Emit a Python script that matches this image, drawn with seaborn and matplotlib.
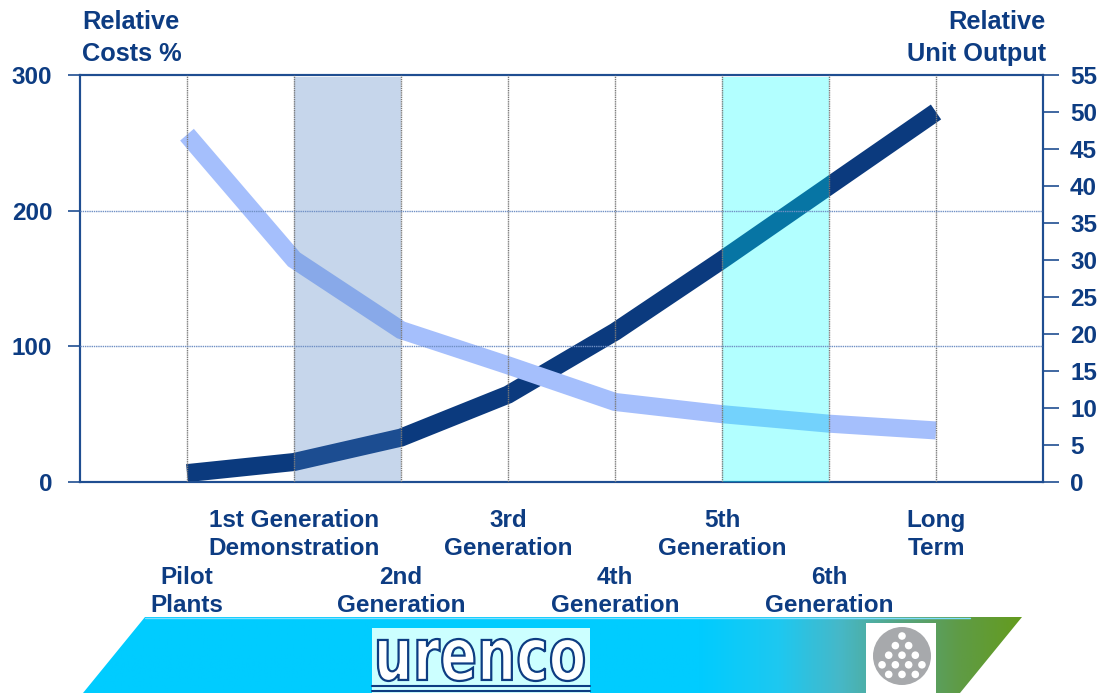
import numpy as np
import matplotlib
matplotlib.use("Agg")
import matplotlib.pyplot as plt
import seaborn as sns
from matplotlib.patches import Polygon, Rectangle, Circle, PathPatch
from matplotlib.textpath import TextPath
from matplotlib.font_manager import FontProperties
from matplotlib.transforms import Affine2D

# ---- data ----
stages = ["Pilot\nPlants", "1st Generation\nDemonstration", "2nd\nGeneration",
          "3rd\nGeneration", "4th\nGeneration", "5th\nGeneration",
          "6th\nGeneration", "Long\nTerm"]
relative_costs = [256, 164, 112, 86, 59, 50, 43, 38]          # left axis, %
relative_output = [1.2, 2.7, 6.0, 11.8, 20.3, 30.0, 40.0, 50.0]  # right axis
cost_ticks = [0, 100, 200, 300]
output_ticks = list(range(0, 60, 5))
shaded_spans = [(1, 2, "#4579be"), (5, 6, "#00ffff")]

navy = "#0d3c82"
spine_col = "#1f4e91"
dark_line = "#0b3a7e"
light_line = "#a5bffc"
fs = 17.5

sns.set_style("white")
plt.rcParams["font.family"] = ["Liberation Sans", "DejaVu Sans"]
plt.rcParams["font.weight"] = "bold"

fig = plt.figure(figsize=(10.99, 6.93), dpi=100)
W, H = 1099, 693
ax_out = fig.add_axes([80 / W, 1 - 482 / H, (1043 - 80) / W, (482 - 75) / H])
ax_cost = ax_out.twinx()

x = np.arange(len(stages))

# output line (drawn under)
sns.lineplot(x=x, y=relative_output, ax=ax_out, color=dark_line, linewidth=13,
             solid_capstyle="butt", solid_joinstyle="miter", zorder=3)
# cost line (on top)
sns.lineplot(x=x, y=relative_costs, ax=ax_cost, color=light_line, linewidth=13,
             solid_capstyle="butt", solid_joinstyle="miter", zorder=3)

# shaded overlays
for a, b, c in shaded_spans:
    ax_cost.axvspan(a, b, ymin=0, ymax=0.995, color=c, alpha=0.3, lw=0, zorder=4)

# grid
for xi in x:
    ax_cost.axvline(xi, color="#7a7a7a", lw=1, ls=(0, (1, 0.6)), zorder=5)
for yv in cost_ticks[1:-1]:
    ax_cost.axhline(yv, color="#6f8fc4", lw=1, ls=(0, (1, 0.6)), zorder=5)

ax_out.set_xlim(-1, len(stages))
ax_out.set_ylim(0, 55)
ax_cost.set_ylim(0, 300)

# axes sides: costs on left, output on right
ax_cost.yaxis.tick_left()
ax_out.yaxis.tick_right()
ax_cost.set_yticks(cost_ticks)
ax_cost.set_yticklabels([str(v) for v in cost_ticks])
ax_out.set_yticks(output_ticks)
ax_out.set_yticklabels([str(v) for v in output_ticks])

# staggered category labels: odd stages on major ticks (upper row),
# even stages on minor ticks (lower row)
major_pos = [-1] + [i for i in x if i % 2 == 1] + [len(stages)]
major_lab = [""] + [stages[i] for i in x if i % 2 == 1] + [""]
minor_pos = [i for i in x if i % 2 == 0]
minor_lab = [stages[i] for i in minor_pos]
ax_out.set_xticks(major_pos)
ax_out.set_xticklabels(major_lab, linespacing=1.27)
ax_out.set_xticks(minor_pos, minor=True)
ax_out.set_xticklabels(minor_lab, minor=True, linespacing=1.27)

ax_cost.tick_params(axis="y", direction="out", length=9, width=1.2, color=spine_col,
                    labelsize=fs, labelcolor=navy, pad=11)
ax_out.tick_params(axis="y", direction="out", length=11.5, width=1.2, color=spine_col,
                   labelsize=fs, labelcolor=navy, pad=8)
ax_out.tick_params(axis="x", which="major", direction="out", length=10, width=1.2,
                   color=spine_col, labelsize=fs, labelcolor=navy, pad=9.5)
ax_out.tick_params(axis="x", which="minor", direction="out", length=10, width=1.2,
                   color=spine_col, labelsize=fs, labelcolor=navy, pad=50.5)
for lab in (ax_cost.get_yticklabels() + ax_out.get_yticklabels()
            + ax_out.get_xticklabels() + ax_out.get_xticklabels(minor=True)):
    lab.set_fontweight("bold")

for axx in (ax_out, ax_cost):
    for sp in axx.spines.values():
        sp.set_color(spine_col)
        sp.set_linewidth(1.5)
    axx.set_xlabel("")
    axx.set_ylabel("")
    axx.grid(False)

fig.text(82 / W, 1 - 10 / H, "Relative\nCosts %", ha="left", va="top",
         fontsize=18.3, fontweight="bold", color=navy, linespacing=1.4)
fig.text(1046 / W, 1 - 10 / H, "Relative\nUnit Output", ha="right", va="top",
         fontsize=18.3, fontweight="bold", color=navy, linespacing=1.4,
         multialignment="right")

# ---- footer banner ----
ban = fig.add_axes([0, 0, 1, 1], zorder=-1)
ban.set_xlim(0, W)
ban.set_ylim(H, 0)
ban.axis("off")
ban.patch.set_visible(False)

poly = Polygon([(83, 693), (145, 617), (1022, 617), (960, 693)], closed=True,
               facecolor="none", edgecolor="none")
ban.add_patch(poly)
xs = np.linspace(83, 1022, 600)
stops_x = [700, 780, 840, 900, 960, 1022]
stops_c = np.array([[0, 204, 255], [30, 200, 240], [70, 184, 200],
                    [85, 165, 130], [95, 155, 70], [100, 155, 30]]) / 255
grad = np.stack([np.interp(xs, stops_x, stops_c[:, k]) for k in range(3)], axis=-1)
img = ban.imshow(grad[np.newaxis, :, :], extent=[83, 1022, 693, 617], aspect="auto")
img.set_clip_path(poly)
ban.plot([145, 970], [617.5, 617.5], color="#7fdfff", lw=1)

# urenco logo
ban.add_patch(Rectangle((372, 628), 218, 65, facecolor="#ccffff", edgecolor="none"))
tp = TextPath((0, 0), "urenco", size=1, prop=FontProperties(family="DejaVu Sans"))
ext = tp.get_extents()
sx = 206 / ext.width
sy = 42 / ext.height
tr = Affine2D().translate(-ext.x0, -ext.y0).scale(sx, -sy).translate(378, 681)
ban.add_patch(PathPatch(tr.transform_path(tp), facecolor="white", edgecolor=navy, lw=1.6))
ban.plot([372, 590], [686, 686], color=navy, lw=1.5)
ban.plot([372, 590], [690.5, 690.5], color=navy, lw=1.5)

# round logo
ban.add_patch(Rectangle((866, 623), 70, 70, facecolor="white", edgecolor="none"))
ban.add_patch(Circle((902, 656), 29, facecolor="#a7a9ac", edgecolor="none"))
rows = [[0], [-0.5, 0.5], [-1, 0, 1], [-1.5, -0.5, 0.5, 1.5], [-1, 0, 1]]
for r, cols in enumerate(rows):
    for cx in cols:
        ban.add_patch(Circle((902 + cx * 13.3, 636 + r * 9.6), 3.8,
                             facecolor="white", edgecolor="none"))

fig.savefig("out.png", dpi=100)
